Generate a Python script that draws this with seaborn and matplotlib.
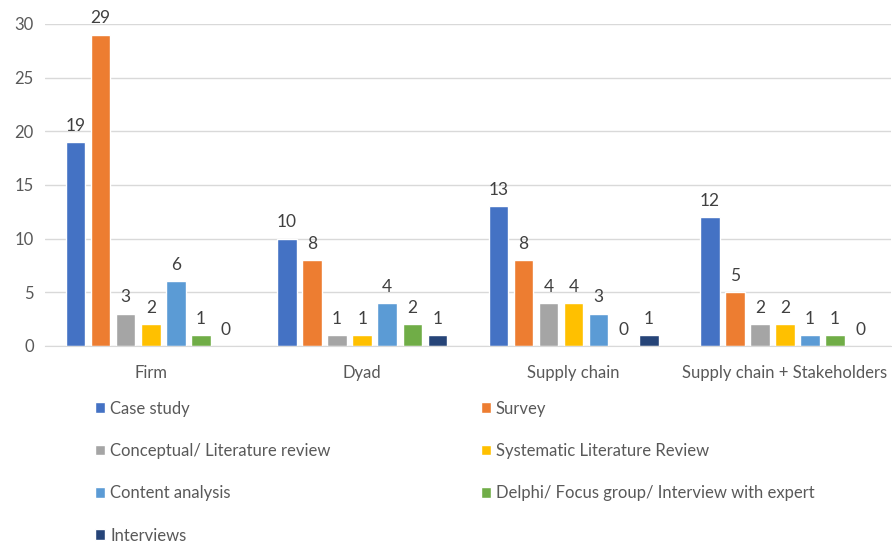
import matplotlib
matplotlib.use("Agg")
import matplotlib.pyplot as plt
import seaborn as sns
import pandas as pd

categories = ["Firm", "Dyad", "Supply chain", "Supply chain + Stakeholders"]
methods = ["Case study", "Survey", "Conceptual/ Literature review",
           "Systematic Literature Review", "Content analysis",
           "Delphi/ Focus group/ Interview with expert", "Interviews"]
case_study = [19, 10, 13, 12]
survey = [29, 8, 8, 5]
conceptual = [3, 1, 4, 2]
systematic = [2, 1, 4, 2]
content = [6, 4, 3, 1]
delphi = [1, 2, 0, 1]
interviews = [0, 1, 1, 0]
colors = ["#4472C4", "#ED7D31", "#A5A5A5", "#FFC000", "#5B9BD5", "#70AD47", "#264478"]

series = [case_study, survey, conceptual, systematic, content, delphi, interviews]
rows = []
for m, vals in zip(methods, series):
    for c, v in zip(categories, vals):
        rows.append({"Category": c, "Method": m, "Value": v})
df = pd.DataFrame(rows)

sns.set_style("white")
plt.rcParams["font.family"] = ["Lato", "DejaVu Sans"]

fig = plt.figure(figsize=(8.92, 5.43), dpi=100)
ax = fig.add_axes([0.0505, 0.363, 0.948, 0.593])
sns.barplot(data=df, x="Category", y="Value", hue="Method", order=categories,
            hue_order=methods, palette=colors, width=0.83, gap=0.22,
            ax=ax, legend=True, saturation=1)

ax.set_ylim(0, 30)
ax.set_xlim(-0.5, 3.5)
ax.set_yticks(range(0, 31, 5))
ax.yaxis.grid(True, color="#D9D9D9", linewidth=1)
ax.set_axisbelow(True)
for s in ["top", "right", "left"]:
    ax.spines[s].set_visible(False)
ax.spines["bottom"].set_color("#D9D9D9")
ax.tick_params(axis="both", length=0, labelsize=12, labelcolor="#595959")
ax.tick_params(axis="x", pad=14)
ax.tick_params(axis="y", pad=8)
ax.set_xlabel("")
ax.set_ylabel("")

for cont in ax.containers:
    ax.bar_label(cont, fmt="%d", padding=6, fontsize=12.5, color="#404040")

handles, labels = ax.get_legend_handles_labels()
ax.get_legend().remove()
order = [0, 2, 4, 6, 1, 3, 5]
fig.legend([handles[i] for i in order], [labels[i] for i in order], ncol=2,
           loc="upper left", bbox_to_anchor=(0.09, 0.29),
           frameon=False, fontsize=12, handlelength=0.6, handleheight=0.6,
           handletextpad=0.3, labelspacing=1.58, columnspacing=9.0,
           labelcolor="#595959")

fig.savefig("out.png", dpi=100)
